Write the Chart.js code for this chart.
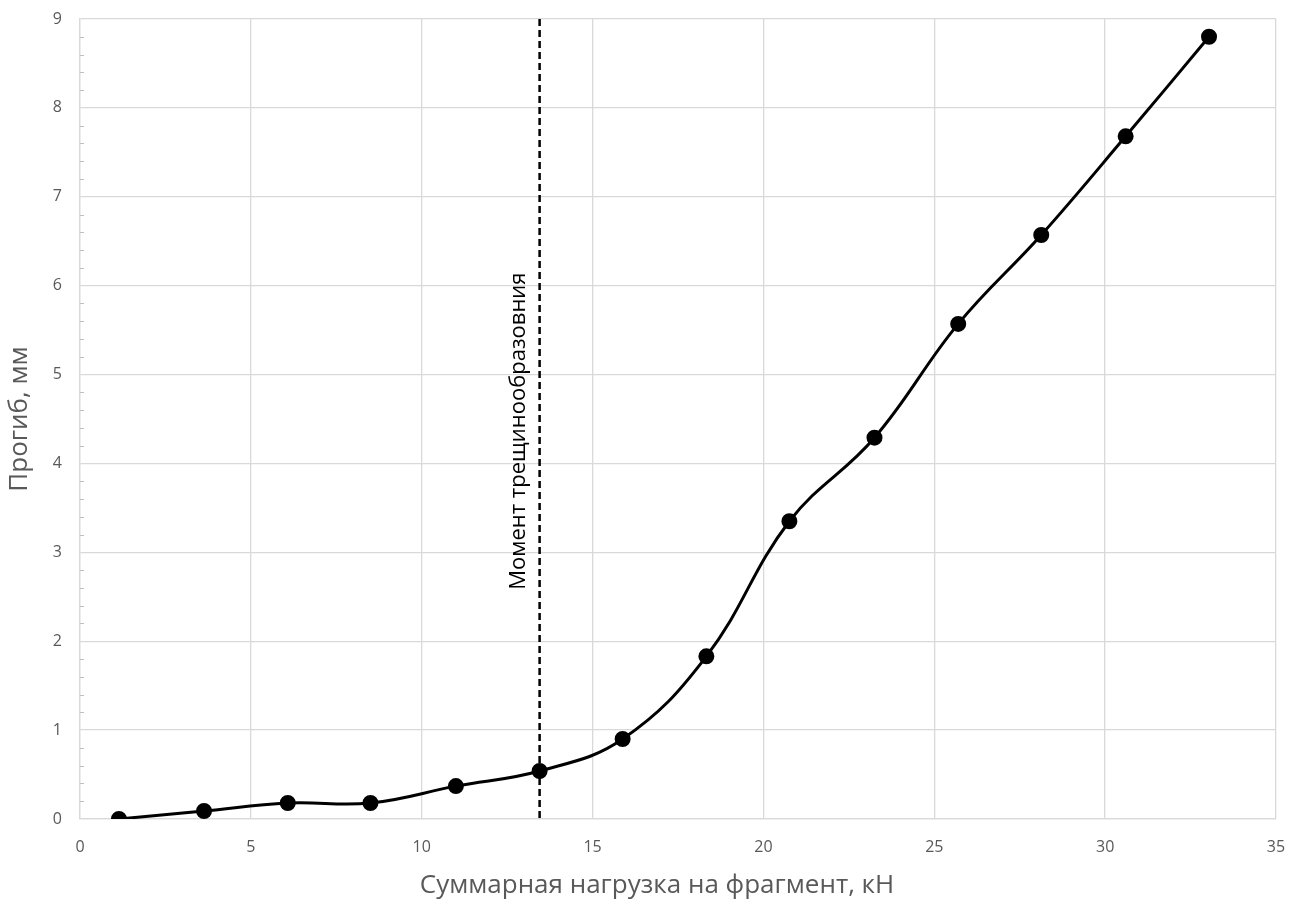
<!DOCTYPE html>
<html>
<head>
<meta charset="utf-8">
<script src="https://cdn.jsdelivr.net/npm/chart.js@4"></script>
<style>
  html, body { margin: 0; padding: 0; background: #fff; }
  #wrap { width: 1305px; height: 906px; }
</style>
</head>
<body>
<div id="wrap"><canvas id="deflectionChart" width="1305" height="906"></canvas></div>
<script>
// values
const loadKN = [1.14, 3.63, 6.08, 8.5, 11.0, 13.45, 15.88, 18.33, 20.76, 23.25, 25.7, 28.13, 30.6, 33.04];
const deflectionMM = [0.0, 0.09, 0.18, 0.18, 0.37, 0.54, 0.9, 1.83, 3.35, 4.29, 5.57, 6.57, 7.68, 8.8];
const crackLoad = 13.45;
const crackLabel = 'Момент трещинообразовния';
const xTitle = 'Суммарная нагрузка на фрагмент, кН';
const yTitle = 'Прогиб, мм';

const axisGray = '#595959';
const gridGray = '#d9d9d9';
const fontFamily = '"Open Sans", "Noto Sans", sans-serif';

// dashed vertical line + rotated label, x title, and minor ticks on the y axis
const crackLinePlugin = {
    id: 'crackLine',
    afterDatasetsDraw(chart) {
        const { ctx, chartArea, scales } = chart;
        const x = scales.x.getPixelForValue(crackLoad);
        ctx.save();
        ctx.strokeStyle = '#000';
        ctx.lineWidth = 2.5;
        ctx.setLineDash([7, 4]);
        ctx.beginPath();
        ctx.moveTo(x, chartArea.top);
        ctx.lineTo(x, chartArea.bottom);
        ctx.stroke();
        ctx.setLineDash([]);

        ctx.translate(x - 21, scales.y.getPixelForValue(2.58));
        ctx.rotate(-Math.PI / 2);
        ctx.fillStyle = '#000';
        ctx.font = '22px ' + fontFamily;
        ctx.textAlign = 'left';
        ctx.textBaseline = 'middle';
        ctx.fillText(crackLabel, 0, 0);
        ctx.restore();

        // x axis title, centred a little left of the plot centre like the original
        ctx.save();
        ctx.fillStyle = axisGray;
        ctx.font = '26px ' + fontFamily;
        ctx.textAlign = 'center';
        ctx.textBaseline = 'middle';
        ctx.fillText(xTitle, 657, 886);
        ctx.restore();
    },
    beforeDatasetsDraw(chart) {
        const { ctx, chartArea, scales } = chart;
        ctx.save();
        ctx.strokeStyle = '#bfbfbf';
        ctx.lineWidth = 1;
        for (let i = 0; i <= 45; i++) {
            if (i % 5 === 0) continue;
            const y = Math.round(scales.y.getPixelForValue(i * 0.2)) + 0.5;
            ctx.beginPath();
            ctx.moveTo(chartArea.left, y);
            ctx.lineTo(chartArea.left + 4, y);
            ctx.stroke();
        }
        ctx.restore();
    }
};

const ctx = document.getElementById('deflectionChart').getContext('2d');
new Chart(ctx, {
    type: 'line',
    data: {
        datasets: [{
            data: loadKN.map((x, i) => ({ x: x, y: deflectionMM[i] })),
            borderColor: '#000',
            backgroundColor: '#000',
            borderWidth: 3,
            pointRadius: 6.5,
            pointHoverRadius: 6.5,
            tension: 0.4,
            fill: false
        }]
    },
    options: {
        responsive: false,
        animation: false,
        layout: { padding: { top: 19, right: 29, left: 0, bottom: 0 } },
        plugins: {
            legend: { display: false },
            tooltip: { enabled: false }
        },
        scales: {
            x: {
                type: 'linear',
                min: 0,
                max: 35,
                ticks: {
                    stepSize: 5,
                    color: axisGray,
                    font: { size: 16, family: fontFamily },
                    padding: 19
                },
                grid: { color: gridGray, lineWidth: 1.3, drawTicks: false },
                border: { color: gridGray, width: 1.3 },
                title: { display: false },
                afterFit(scale) {
                    scale.height = 87;
                    scale.paddingLeft = 0;
                    scale.paddingRight = 0;
                }
            },
            y: {
                min: 0,
                max: 9,
                ticks: {
                    stepSize: 1,
                    color: axisGray,
                    font: { size: 16, family: fontFamily },
                    padding: 18
                },
                grid: { color: gridGray, lineWidth: 1.3, drawTicks: false },
                border: { color: gridGray, width: 1.3 },
                title: {
                    display: true,
                    text: yTitle,
                    color: axisGray,
                    font: { size: 26, family: fontFamily },
                    padding: { top: 4, bottom: 4 }
                },
                afterFit(scale) {
                    scale.width = 80;
                    scale.paddingTop = 0;
                    scale.paddingBottom = 0;
                }
            }
        }
    },
    plugins: [crackLinePlugin]
});
</script>
</body>
</html>
